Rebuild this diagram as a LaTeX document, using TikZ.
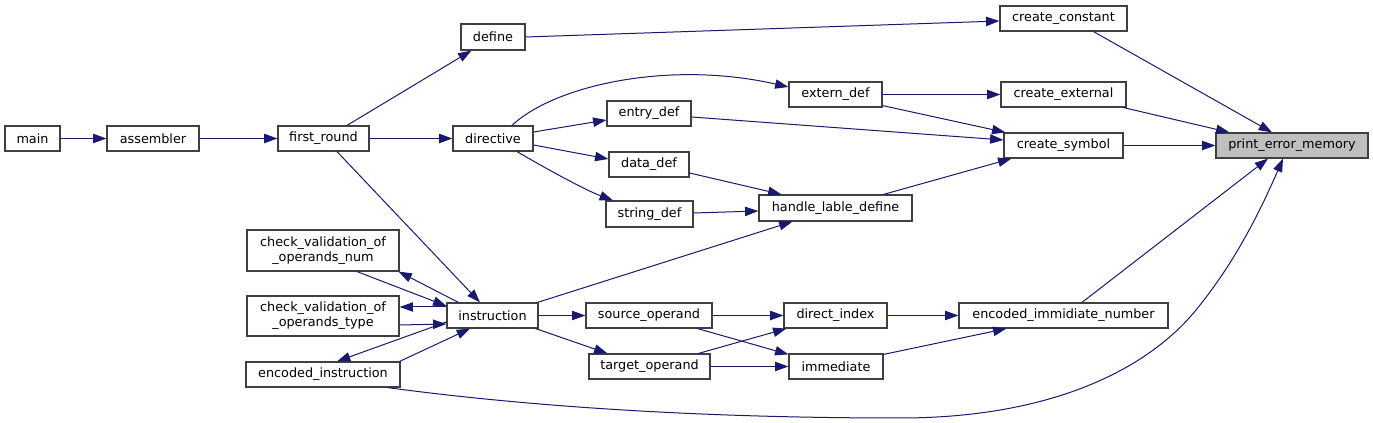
\documentclass[tikz,border=0pt]{standalone}
\usepackage{fontspec}
\setmainfont{DejaVu Sans}
\usetikzlibrary{arrows.meta,calc}
\definecolor{edgec}{RGB}{25,25,112}
\definecolor{boxc}{RGB}{64,64,64}
\definecolor{hl}{RGB}{191,191,191}
\tikzset{
  box/.style={draw=boxc, line width=0.9pt, fill=white, inner sep=0pt, align=center,
    font=\fontsize{9.6pt}{11.2pt}\selectfont},
  edge/.style={draw=edgec, line width=0.75pt, -{Triangle[length=10pt,width=7pt]}},
}
\newcommand\bx[7][]{\node[box,#1, minimum width={(#4-#2)*0.75pt}, minimum height={(#5-#3)*0.75pt}] (#6) at ({(#2+#4)/2},{(#3+#5)/2}) {#7};}
\begin{document}
\begin{tikzpicture}[x=0.75pt,y=-0.75pt]
\useasboundingbox[fill=white] (0,0) rectangle (1373,423);
% nodes
\bx{5}{126}{60}{151}{main}{main}
\bx{107}{126}{199}{151}{asm}{assembler}
\bx{278}{126}{369}{151}{fr}{first\_round}
\bx{461}{24}{525}{50}{def}{define}
\bx{453}{126}{533}{151}{dir}{directive}
\bx{789}{82}{882}{107}{ext}{extern\_def}
\bx{607}{101}{691}{126}{ent}{entry\_def}
\bx{609}{152}{689}{177}{dat}{data\_def}
\bx{606}{201}{693}{227}{str}{string\_def}
\bx{759}{195}{912}{221}{hld}{handle\_lable\_define}
\bx{1000}{6}{1127}{31}{cc}{create\_constant}
\bx{1001}{82}{1126}{107}{ce}{create\_external}
\bx{1004}{133}{1123}{158}{cs}{create\_symbol}
\bx[fill=hl]{1216}{133}{1368}{158}{pem}{print\_error\_memory}
\bx{247}{230}{399}{271}{cvn}{check\_validation\_of\\\_operands\_num}
\bx{247}{296}{399}{336}{cvt}{check\_validation\_of\\\_operands\_type}
\bx{246}{362}{400}{387}{enc}{encoded\_instruction}
\bx{447}{303}{538}{328}{ins}{instruction}
\bx{586}{303}{712}{328}{src}{source\_operand}
\bx{589}{354}{710}{379}{tgt}{target\_operand}
\bx{784}{303}{887}{328}{di}{direct\_index}
\bx{789}{354}{883}{379}{imm}{immediate}
\bx{959}{303}{1168}{328}{ein}{encoded\_immidiate\_number}
% edges
\path[edge] (main.east) -- (asm.west);
\path[edge] (asm.east) -- (fr.west);
\path[edge] ($(fr.north)+(23.5,0)$) -- ($(def.south west)+(11,0)$);
\path[edge] (fr.east) -- (dir.west);
\path[edge] ($(fr.south)+(13.5,0)$) -- ($(ins.north)+(-12.5,0)$);
\path[edge] (def.east) -- ($(cc.west)+(0,2.5)$);
\path[edge] ($(cc.south)+(30,0)$) -- ($(pem.north)+(-20,0)$);
\path[edge] ($(dir.north)+(19,0)$) .. controls (555,85) and (670,60) .. ($(ext.west)+(0,-7.5)$);
\path[edge] ($(dir.east)+(0,-6.5)$) -- ($(ent.west)+(0,6.5)$);
\path[edge] ($(dir.east)+(0,6.5)$) -- ($(dat.west)+(0,-5.5)$);
\path[edge] ($(dir.south)+(24,0)$) .. controls (545,168) and (585,190) .. ($(str.north)+(-36.5,0)$);
\path[edge] (ext.east) -- (ce.west);
\path[edge] ($(ext.south east)+(0,-2)$) -- ($(cs.north west)+(2,0)$);
\path[edge] ($(ent.east)+(0,3.5)$) -- ($(cs.west)+(0,-5.5)$);
\path[edge] ($(ce.south east)+(-3,0)$) -- ($(pem.north west)+(14,0)$);
\path[edge] (cs.east) -- (pem.west);
\path[edge] ($(dat.east)+(0,8.5)$) -- ($(hld.north west)+(23,0)$);
\path[edge] ($(str.east)+(0,-1)$) -- ($(hld.west)+(0,3)$);
\path[edge] ($(hld.north east)+(-29,0)$) -- ($(cs.south west)+(8,0)$);
\path[edge] ($(ins.north east)+(-1,0)$) -- ($(hld.south west)+(34,0)$);
\path[edge] ($(ins.north west)+(12,0)$) -- ($(cvn.south east)+(-1,0)$);
\path[edge] ($(cvn.south)+(34,0)$) -- ($(ins.west)+(0,-9.5)$);
\path[edge] ($(ins.west)+(0,-8.5)$) -- ($(cvt.east)+(0,-9)$);
\path[edge] ($(cvt.east)+(0,9)$) -- ($(ins.west)+(0,8.5)$);
\path[edge] ($(ins.west)+(0,6.5)$) -- ($(enc.north)+(14,0)$);
\path[edge] ($(enc.north east)+(-1,0)$) -- ($(ins.south)+(-22.5,0)$);
\path[edge] ($(enc.south east)+(-13,0)$) .. controls (480,400) and (650,418) .. (900,418)
  .. controls (1050,418) and (1150,370) .. (1200,305)
  .. controls (1240,255) and (1265,200) .. ($(pem.south)+(-9,0)$);
\path[edge] (ins.east) -- (src.west);
\path[edge] ($(ins.south east)+(-3,0)$) -- ($(tgt.north west)+(19,0)$);
\path[edge] (src.east) -- (di.west);
\path[edge] ($(src.south east)+(-15,0)$) -- ($(imm.north west)+(0,1)$);
\path[edge] ($(tgt.north east)+(-12,0)$) -- ($(di.south west)+(3,0)$);
\path[edge] (tgt.east) -- (imm.west);
\path[edge] (di.east) -- (ein.west);
\path[edge] ($(imm.north east)+(0,1)$) -- ($(ein.south west)+(48,0)$);
\path[edge] ($(ein.north)+(18.5,0)$) -- ($(pem.south)+(-24,0)$);
\end{tikzpicture}
\end{document}
